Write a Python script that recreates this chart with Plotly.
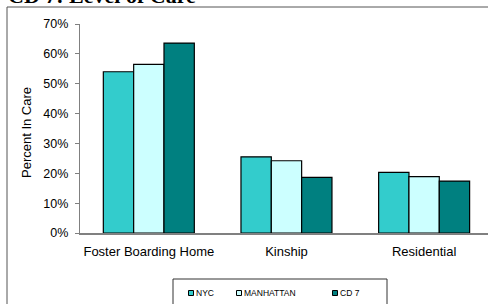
import plotly.graph_objects as go

categories = ["Foster Boarding Home", "Kinship", "Residential"]
series_names = ["NYC", "MANHATTAN", "CD 7"]
nyc = [0.54, 0.255, 0.203]
manhattan = [0.565, 0.242, 0.189]
cd7 = [0.636, 0.186, 0.174]
y_ticks = [0, 0.1, 0.2, 0.3, 0.4, 0.5, 0.6, 0.7]
colors = ["#33CCCC", "#CCFFFF", "#008080"]

W, H = 488, 304
L, R, T, B = 80, 0, 24, 71
pw, ph = W - L - R, H - T - B

def px_x(x):
    return (x - L) / pw

def px_y(y):
    return (H - B - y) / ph

fig = go.Figure()
for name, vals, col in zip(series_names, [nyc, manhattan, cd7], colors):
    fig.add_trace(go.Bar(
        x=categories, y=vals, name=name,
        marker=dict(color=col, line=dict(color="#000000", width=1.2)),
        showlegend=False,
    ))

shapes = []
annotations = []
# outer chart border (extends past image on right and bottom)
shapes.append(dict(type="rect", xref="paper", yref="paper",
                   x0=px_x(7), x1=px_x(W + 20), y0=px_y(H + 30), y1=px_y(7),
                   line=dict(color="#555555", width=1), fillcolor="rgba(0,0,0,0)", layer="below"))
# legend box
shapes.append(dict(type="rect", xref="paper", yref="paper",
                   x0=px_x(173), x1=px_x(387), y0=px_y(H + 20), y1=px_y(279),
                   line=dict(color="#333333", width=1), fillcolor="white"))
leg_x = [191, 239, 335]
for name, col, lx in zip(series_names, colors, leg_x):
    shapes.append(dict(type="rect", xref="paper", yref="paper",
                       x0=px_x(lx - 2.5), x1=px_x(lx + 2.5), y0=px_y(295.5), y1=px_y(290.5),
                       line=dict(color="#000000", width=1), fillcolor=col))
    annotations.append(dict(text=name, xref="paper", yref="paper", x=px_x(lx + 3), y=px_y(293),
                            xanchor="left", yanchor="middle", showarrow=False,
                            font=dict(family="Liberation Sans, Arial", size=8.5, color="#000000")))

# title (mostly cut off at top in the reference)
annotations.append(dict(text="<b>CD 7: Level of Care</b>", xref="paper", yref="paper",
                        x=px_x(6), y=px_y(9.5), xanchor="left", yanchor="bottom", showarrow=False,
                        font=dict(family="Liberation Serif, Times New Roman", size=22, color="#000000")))
# y axis title
annotations.append(dict(text="Percent In Care", xref="paper", yref="paper",
                        x=px_x(26), y=px_y(133), xanchor="center", yanchor="middle",
                        textangle=-90, showarrow=False,
                        font=dict(family="Liberation Sans, Arial", size=13, color="#000000")))

fig.update_layout(
    width=W, height=H,
    margin=dict(l=L, r=R, t=T, b=B, pad=0),
    paper_bgcolor="white", plot_bgcolor="white",
    barmode="group", bargap=0.339, bargroupgap=0,
    shapes=shapes, annotations=annotations,
    font=dict(family="Liberation Sans, Arial", color="#000000"),
)
fig.update_xaxes(range=[-0.5, 2.464], showline=True, linecolor="#808080", linewidth=1.5,
                 ticks="", showgrid=False, zeroline=False,
                 tickfont=dict(size=13, family="Liberation Sans, Arial", color="#000000"),
                 ticklabelstandoff=6)
fig.update_yaxes(range=[0, 0.7], tickvals=y_ticks, tickformat=".0%", showline=True,
                 linecolor="#808080", linewidth=1.2, ticks="outside", ticklen=4, tickcolor="#808080",
                 showgrid=False, zeroline=False,
                 tickfont=dict(size=12.5, family="Liberation Sans, Arial", color="#000000"),
                 ticklabelstandoff=4)

fig.write_html("out.html", config={"displayModeBar": False, "staticPlot": True},
               post_script="document.body.style.margin='0';document.body.style.overflow='hidden';")
